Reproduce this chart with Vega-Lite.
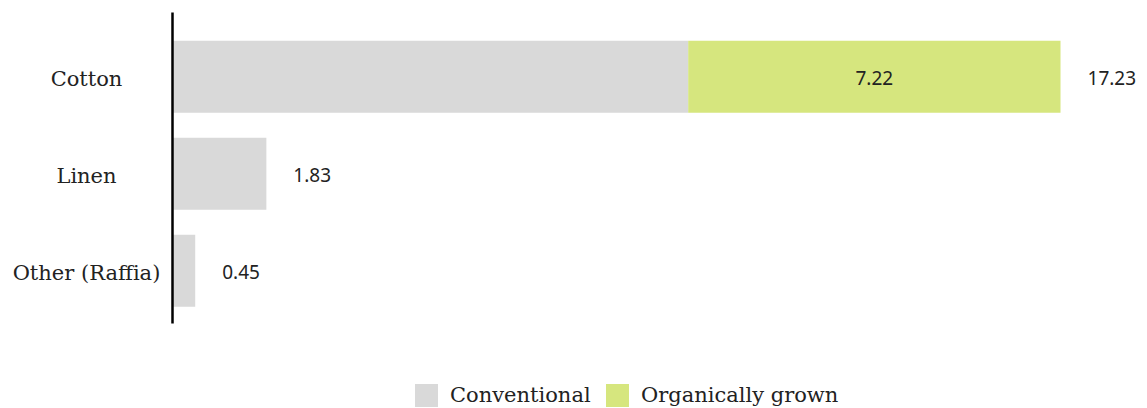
{
  "$schema": "https://vega.github.io/schema/vega-lite/v6.json",
  "width": 954,
  "height": 311,
  "autosize": "none",
  "padding": {"left": 172, "top": 12, "right": 21, "bottom": 85},
  "config": {"view": {"stroke": null}, "font": "DejaVu Serif"},
  "datasets": {
    "parts": [
      {"category": "Cotton", "type": "Conventional", "value": 10.01},
      {"category": "Cotton", "type": "Organically grown", "value": 7.22},
      {"category": "Linen", "type": "Conventional", "value": 1.83},
      {"category": "Other (Raffia)", "type": "Conventional", "value": 0.45}
    ],
    "totals": [
      {"category": "Cotton", "total": 17.23},
      {"category": "Linen", "total": 1.83},
      {"category": "Other (Raffia)", "total": 0.45}
    ]
  },
  "layer": [
    {
      "data": {"name": "parts"},
      "transform": [
        {"stack": "value", "groupby": ["category"], "sort": [{"field": "type"}], "as": ["v0", "v1"]}
      ],
      "mark": {"type": "bar"},
      "encoding": {
        "y": {
          "field": "category", "type": "nominal",
          "sort": ["Cotton", "Linen", "Other (Raffia)"],
          "scale": {"paddingInner": 0.258, "paddingOuter": 0.232, "align": 0.64},
          "axis": {"title": null, "ticks": false, "domainColor": "#000000", "domainWidth": 2.5, "labelFontSize": 21, "labelColor": "#222222", "labelPadding": 86, "labelAlign": "center", "labelOffset": 3, "zindex": 1, "labelFont": "DejaVu Serif", "labelLimit": 300}
        },
        "x": {"field": "v0", "type": "quantitative", "scale": {"domain": [0, 18.5], "nice": false}, "axis": null},
        "x2": {"field": "v1"},
        "color": {
          "field": "type", "type": "nominal",
          "scale": {"domain": ["Conventional", "Organically grown"], "range": ["#d9d9d9", "#d6e67e"]},
          "legend": {"title": null, "orient": "none", "legendX": 243, "legendY": 372, "direction": "horizontal", "symbolType": "square", "symbolSize": 529, "symbolStrokeWidth": 0, "symbolOpacity": 1, "labelFontSize": 21, "labelColor": "#222222", "labelOffset": 12, "columnPadding": 15, "labelFont": "DejaVu Serif", "labelLimit": 400}
        }
      }
    },
    {
      "data": {"name": "parts"},
      "transform": [
        {"stack": "value", "groupby": ["category"], "sort": [{"field": "type"}], "as": ["v0", "v1"]},
        {"filter": "datum.type === 'Organically grown'"},
        {"calculate": "(datum.v0 + datum.v1) / 2", "as": "mid"}
      ],
      "mark": {"type": "text", "fontSize": 19, "font": "Noto Sans", "color": "#222222", "align": "center", "baseline": "middle", "dy": 2},
      "encoding": {
        "y": {"field": "category", "type": "nominal", "sort": ["Cotton", "Linen", "Other (Raffia)"]},
        "x": {"field": "mid", "type": "quantitative"},
        "text": {"field": "value", "type": "quantitative", "format": ".2f"}
      }
    },
    {
      "data": {"name": "totals"},
      "mark": {"type": "text", "fontSize": 19, "font": "Noto Sans", "color": "#222222", "align": "left", "baseline": "middle", "dx": 27, "dy": 2},
      "encoding": {
        "y": {"field": "category", "type": "nominal", "sort": ["Cotton", "Linen", "Other (Raffia)"]},
        "x": {"field": "total", "type": "quantitative"},
        "text": {"field": "total", "type": "quantitative", "format": ".2f"}
      }
    }
  ]
}
